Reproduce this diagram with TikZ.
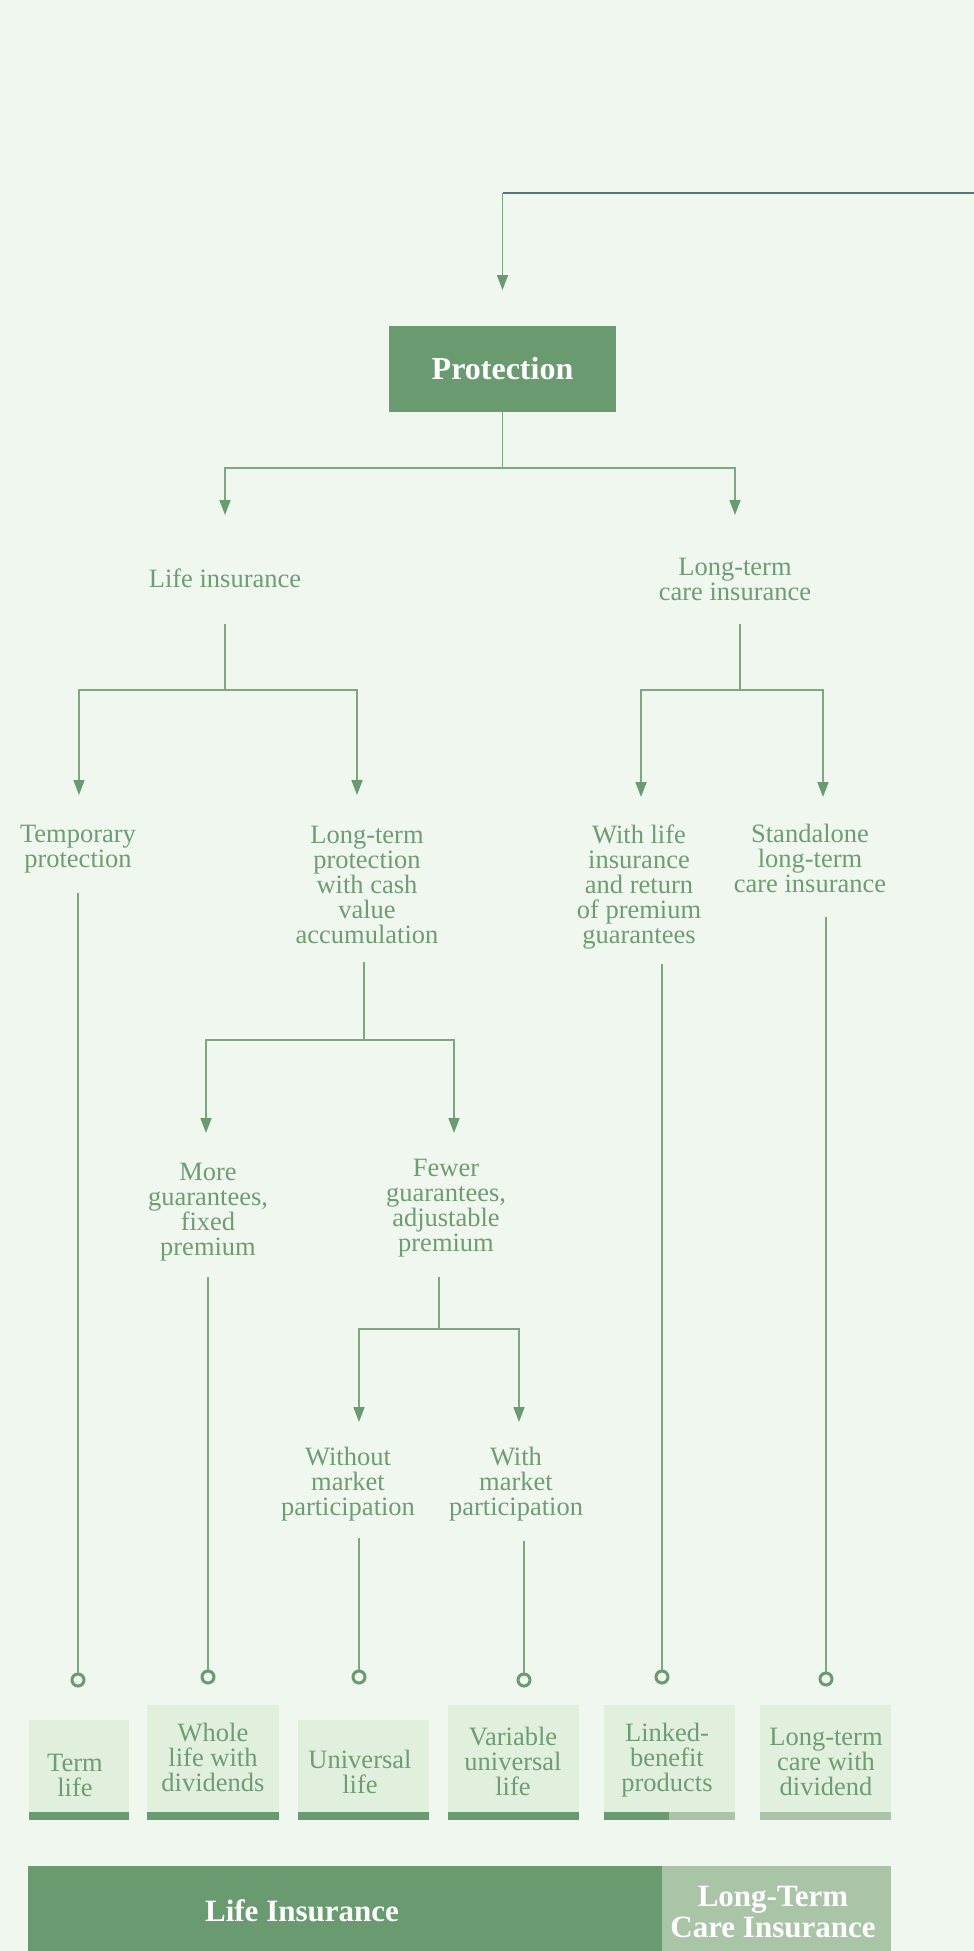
\documentclass[tikz,border=0pt]{standalone}
\usepackage{fontspec}
\setmainfont{Liberation Serif}
\usetikzlibrary{arrows.meta}
\definecolor{bgc}{HTML}{F0F7EF}
\definecolor{darkg}{HTML}{6A9A6F}
\definecolor{lightg}{HTML}{A9C4A7}
\definecolor{boxc}{HTML}{E1EFDD}
\definecolor{txtc}{HTML}{6E9D73}
\definecolor{lnc}{HTML}{7CA781}
\definecolor{tealc}{HTML}{52787A}
\begin{document}
\begin{tikzpicture}[x=1pt,y=-1pt,
  lbl/.style={align=center,inner sep=0pt,anchor=base,text=txtc,font=\fontsize{26.5}{25}\selectfont},
  blbl/.style={align=center,inner sep=0pt,anchor=base,text=white,font=\fontsize{31}{31}\selectfont\bfseries},
  ln/.style={draw=lnc,line width=1.6pt},
  arr/.style={ln,-{Triangle[length=15pt,width=11pt,color=darkg]}},
  dot/.style={circle,draw=darkg,line width=3pt,fill=bgc,minimum size=12pt,inner sep=0pt},
  pb/.style={fill=boxc,inner sep=0pt,outer sep=0pt,anchor=north west},
  barbox/.style={inner sep=0pt,outer sep=0pt,anchor=north west,minimum height=85pt}]
\useasboundingbox (0,0) rectangle (974,1951);
\fill[bgc] (0,0) rectangle (974,1951);

% top connector
\coordinate (topR) at (974,193);
\coordinate (topC) at (502.5,193);
\coordinate (protIn) at (502.5,290);
\draw[draw=tealc,line width=2pt] (topR) -- (topC);
\draw[arr] (topC) -- (protIn);

% Protection
\node[fill=darkg,minimum width=227pt,minimum height=86pt,inner sep=0pt,outer sep=0pt,text=white,
      font=\fontsize{32}{32}\selectfont\bfseries] (prot) at (502.5,369) {Protection};
\coordinate (protJ) at (502.5,468);
\coordinate (lifeA) at (225,515);
\coordinate (ltcA) at (735,515);
\draw[ln] (prot.south) -- (protJ);
\draw[arr] (protJ) -| (lifeA);
\draw[arr] (protJ) -| (ltcA);

% level 2 (anchor = baseline of last line)
\node[lbl] (life) at (225,587) {Life insurance};
\node[lbl] (ltc) at (735,600) {Long-term\\care insurance};

\coordinate (lifeS) at (225,624);
\coordinate (lifeJ) at (225,690);
\coordinate (tempA) at (79,795);
\coordinate (ltpA) at (357,795);
\draw[ln] (lifeS) -- (lifeJ);
\draw[arr] (lifeJ) -| (tempA);
\draw[arr] (lifeJ) -| (ltpA);

\coordinate (ltcS) at (740,624);
\coordinate (ltcJ) at (740,690);
\coordinate (wlA) at (641,797);
\coordinate (saA) at (823,797);
\draw[ln] (ltcS) -- (ltcJ);
\draw[arr] (ltcJ) -| (wlA);
\draw[arr] (ltcJ) -| (saA);

% level 3
\node[lbl] (temp) at (78,867) {Temporary\\protection};
\node[lbl] (ltp) at (367,943) {Long-term\\protection\\with cash\\value\\accumulation};
\node[lbl] (wl) at (639,943) {With life\\insurance\\and return\\of premium\\guarantees};
\node[lbl] (sa) at (810,892) {Standalone\\long-term\\care insurance};

\coordinate (ltpS) at (364,962);
\coordinate (ltpJ) at (364,1040);
\coordinate (moreA) at (206,1133);
\coordinate (fewA) at (454,1133);
\draw[ln] (ltpS) -- (ltpJ);
\draw[arr] (ltpJ) -| (moreA);
\draw[arr] (ltpJ) -| (fewA);

% level 4
\node[lbl] (more) at (208,1255) {More\\guarantees,\\fixed\\premium};
\node[lbl] (few) at (446,1251) {Fewer\\guarantees,\\adjustable\\premium};

\coordinate (fewS) at (439,1277);
\coordinate (fewJ) at (439,1329);
\coordinate (woA) at (359,1422);
\coordinate (wmA) at (519,1422);
\draw[ln] (fewS) -- (fewJ);
\draw[arr] (fewJ) -| (woA);
\draw[arr] (fewJ) -| (wmA);

% level 5
\node[lbl] (wo) at (348,1515) {Without\\market\\participation};
\node[lbl] (wm) at (516,1515) {With\\market\\participation};

% drops to products
\coordinate (tempS) at (78,893);
\coordinate (moreS) at (208,1277);
\coordinate (woS) at (359,1538);
\coordinate (wmS) at (524,1541);
\coordinate (wlS) at (662,964);
\coordinate (saS) at (826,917);
\node[dot] (tempC) at (78,1680) {};
\node[dot] (moreC) at (208,1677) {};
\node[dot] (woC) at (359,1677) {};
\node[dot] (wmC) at (524,1680) {};
\node[dot] (wlC) at (662,1677) {};
\node[dot] (saC) at (826,1679) {};
\draw[ln] (tempS) -- (tempC.north);
\draw[ln] (moreS) -- (moreC.north);
\draw[ln] (woS) -- (woC.north);
\draw[ln] (wmS) -- (wmC.north);
\draw[ln] (wlS) -- (wlC.north);
\draw[ln] (saS) -- (saC.north);

% product boxes
\node[pb,minimum width=100pt,minimum height=92pt] (termB) at (29,1720) {};
\node[pb,minimum width=132pt,minimum height=107pt] (wholeB) at (147,1705) {};
\node[pb,minimum width=131pt,minimum height=92pt] (uniB) at (298,1720) {};
\node[pb,minimum width=131pt,minimum height=107pt] (varB) at (448,1705) {};
\node[pb,minimum width=131pt,minimum height=107pt] (linkB) at (604,1705) {};
\node[pb,minimum width=131pt,minimum height=107pt] (ltcdB) at (760,1705) {};
\fill[darkg] (termB.south west) rectangle ++(100,8);
\fill[darkg] (wholeB.south west) rectangle ++(132,8);
\fill[darkg] (uniB.south west) rectangle ++(131,8);
\fill[darkg] (varB.south west) rectangle ++(131,8);
\fill[darkg] (linkB.south west) rectangle ++(65,8);
\fill[lightg] ([xshift=65pt]linkB.south west) rectangle ++(66,8);
\fill[lightg] (ltcdB.south west) rectangle ++(131,8);

\node[lbl] (termT) at (75,1796) {Term\\life};
\node[lbl] (wholeT) at (213,1791) {Whole\\life with\\dividends};
\node[lbl] (uniT) at (360,1793) {Universal\\life};
\node[lbl] (varT) at (513,1795) {Variable\\universal\\life};
\node[lbl] (linkT) at (667,1791) {Linked-\\benefit\\products};
\node[lbl] (ltcdT) at (826,1795) {Long-term\\care with\\dividend};

% bottom bars
\node[barbox,fill=darkg,minimum width=634pt] (lifeBar) at (28,1866) {};
\node[barbox,fill=lightg,minimum width=229pt] (ltcBar) at (662,1866) {};
\node[blbl] (lifeBarT) at (302,1921) {Life Insurance};
\node[blbl] (ltcBarT) at (773,1937) {Long-Term\\Care Insurance};
\end{tikzpicture}
\end{document}
